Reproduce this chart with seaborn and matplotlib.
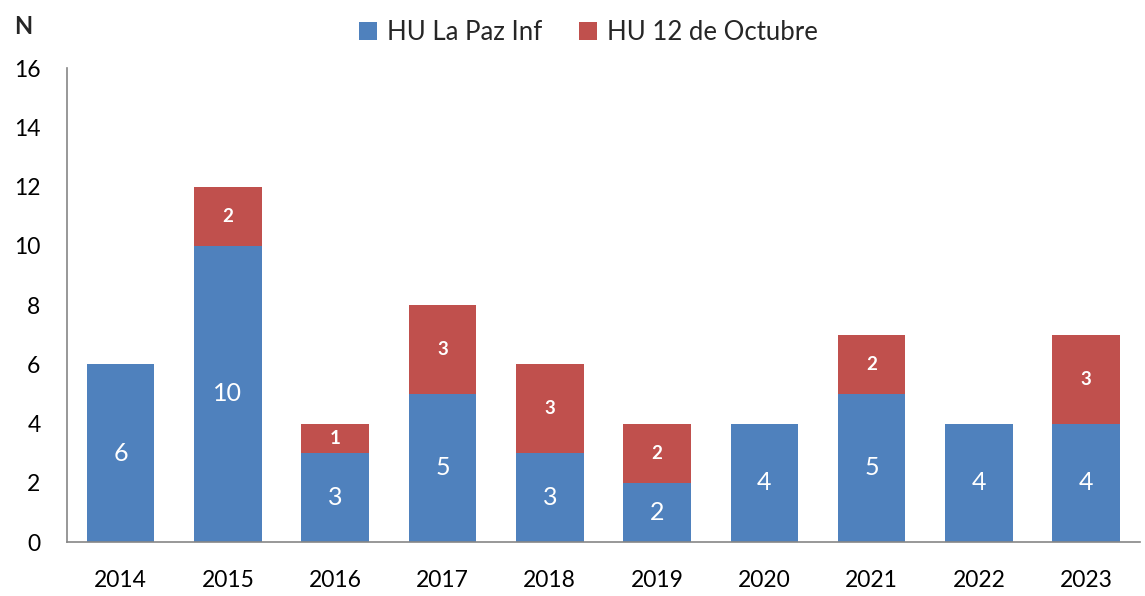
import matplotlib
matplotlib.use("Agg")
import matplotlib.pyplot as plt
import numpy as np
import pandas as pd
import seaborn as sns

years = ["2014", "2015", "2016", "2017", "2018", "2019", "2020", "2021", "2022", "2023"]
la_paz = [6, 10, 3, 5, 3, 2, 4, 5, 4, 4]
octubre = [0, 2, 1, 3, 3, 2, 0, 2, 0, 3]
series_names = ["HU La Paz Inf", "HU 12 de Octubre"]
yticks = [0, 2, 4, 6, 8, 10, 12, 14, 16]

BLUE = "#4F81BD"
RED = "#C0504D"
AXIS = "#868686"

sns.set_theme(style="white")
plt.rcParams["font.family"] = ["Lato", "DejaVu Sans"]

df = pd.DataFrame({"year": years, "la_paz": la_paz, "octubre": octubre})
df["total"] = df["la_paz"] + df["octubre"]

fig = plt.figure(figsize=(11.45, 5.96), dpi=100)
ax = fig.add_axes([0.0585, 0.0906, 0.937, 0.795])

# stacked bars: total in red underneath, La Paz in blue on top of it
sns.barplot(data=df, x="year", y="total", color=RED, width=0.63,
            saturation=1, ax=ax, edgecolor="none", label=series_names[1])
sns.barplot(data=df, x="year", y="la_paz", color=BLUE, width=0.63,
            saturation=1, ax=ax, edgecolor="none", label=series_names[0])

for i, (b, r) in enumerate(zip(la_paz, octubre)):
    ax.text(i, b / 2, str(b), ha="center", va="center", color="white", fontsize=18)
    if r > 0:
        ax.text(i, b + r / 2, str(r), ha="center", va="center", color="white",
                fontsize=13.5, fontweight="bold")

ax.set_xlim(-0.5, len(years) - 0.5)
ax.set_ylim(0, 16)
ax.set_yticks(yticks)
ax.set_yticklabels([str(t) for t in yticks], fontsize=16.5)
ax.set_xlabel("")
ax.set_ylabel("")

ax.set_xticks(range(len(years)))
ax.set_xticklabels(years, fontsize=16.5)
ax.set_xticks(np.arange(-0.5, len(years)), minor=True)
ax.tick_params(axis="x", which="major", length=0, pad=20, colors="black")
ax.tick_params(axis="x", which="minor", length=8, width=1.2, color=AXIS, direction="out")
ax.tick_params(axis="y", which="major", length=8, width=1.2, color=AXIS, direction="out",
               pad=11, labelcolor="black")

for side in ["top", "right"]:
    ax.spines[side].set_visible(False)
for side in ["left", "bottom"]:
    ax.spines[side].set_color(AXIS)
    ax.spines[side].set_linewidth(1.2)

handles, labels = ax.get_legend_handles_labels()
order = [labels.index(n) for n in series_names]
ax.legend([handles[k] for k in order], [labels[k] for k in order],
          loc="center", bbox_to_anchor=(0.486, 1.076), ncol=2, frameon=False,
          fontsize=18.5, handlelength=0.7, handleheight=0.7, handletextpad=0.4,
          columnspacing=1.4, borderpad=0, borderaxespad=0)

fig.text(0.012, 0.955, "N", fontsize=17, fontweight="bold", ha="left", va="center")

fig.savefig("out.png", dpi=100)
